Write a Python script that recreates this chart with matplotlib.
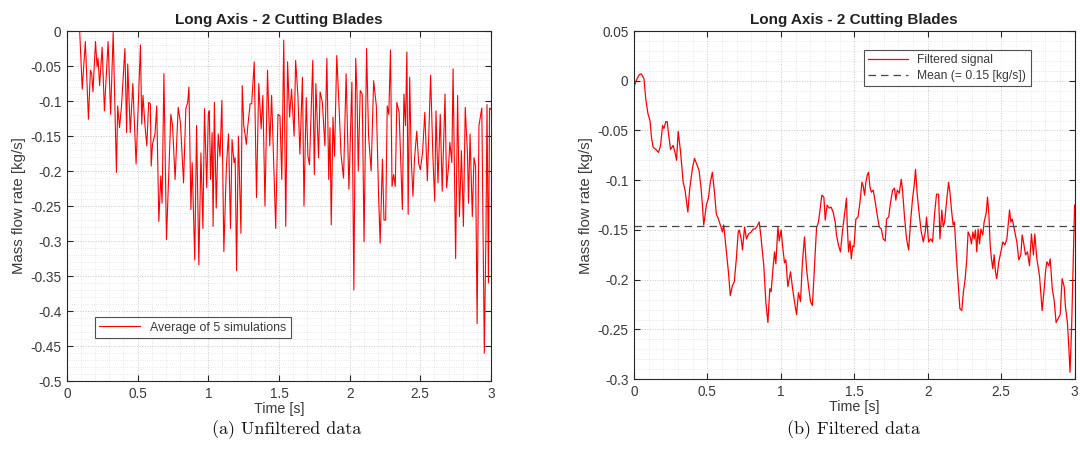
import matplotlib
matplotlib.use("Agg")
import matplotlib.pyplot as plt
from matplotlib.ticker import MultipleLocator, FuncFormatter

plt.rcParams['font.family'] = ['Liberation Sans', 'DejaVu Sans']
plt.rcParams['axes.unicode_minus'] = False

# ---------------- data: unfiltered (average of 5 simulations) ----------------
t_raw = [0.0, 0.09, 0.108, 0.130, 0.152, 0.166, 0.175, 0.184, 0.202, 0.213, 0.220, 0.231, 0.249,
         0.265, 0.291, 0.309, 0.327, 0.350, 0.359, 0.372, 0.386, 0.410, 0.422, 0.430, 0.448,
         0.466, 0.489, 0.520, 0.529, 0.538, 0.552, 0.565, 0.578, 0.590, 0.596, 0.605, 0.623,
         0.635, 0.650, 0.664, 0.673, 0.686, 0.704,
         0.735, 0.747, 0.765, 0.787, 0.803, 0.825, 0.841, 0.854, 0.863, 0.877, 0.886, 0.904,
         0.917, 0.933, 0.948, 0.962, 0.973, 0.989, 1.000, 1.007, 1.016, 1.027, 1.034, 1.043,
         1.056, 1.070, 1.083, 1.096, 1.110, 1.128, 1.143, 1.157, 1.168, 1.182, 1.190, 1.200,
         1.213, 1.231, 1.240, 1.251, 1.262, 1.269, 1.280, 1.296, 1.307, 1.325, 1.341, 1.357,
         1.374, 1.386, 1.401, 1.419, 1.435, 1.448,
         1.477, 1.493, 1.507, 1.520, 1.534, 1.548, 1.561, 1.575, 1.589, 1.607, 1.618, 1.634,
         1.648, 1.666, 1.677, 1.693, 1.705, 1.716, 1.739, 1.750, 1.761, 1.780, 1.791, 1.807,
         1.825, 1.839, 1.852, 1.861, 1.870, 1.882, 1.893, 1.909, 1.925, 1.939, 1.957, 1.975,
         1.995, 2.016, 2.030, 2.043, 2.052, 2.061, 2.075, 2.089, 2.102, 2.120, 2.134, 2.152,
         2.170, 2.189, 2.205, 2.216,
         2.232, 2.243, 2.255, 2.266, 2.277, 2.289, 2.300, 2.311, 2.323, 2.334, 2.350, 2.373,
         2.384, 2.395, 2.405, 2.414, 2.425, 2.436, 2.448, 2.459, 2.475, 2.489, 2.500, 2.516,
         2.532, 2.550, 2.573, 2.589, 2.602, 2.611, 2.625, 2.641, 2.655, 2.675, 2.686, 2.700,
         2.709, 2.723, 2.732, 2.750, 2.764, 2.777, 2.791, 2.805, 2.818, 2.834, 2.841, 2.852,
         2.868, 2.880, 2.891, 2.902,
         2.915, 2.935, 2.953, 2.965, 2.972, 2.982, 2.990, 3.000]
v_raw = [0.0, 0.0, -0.083, -0.015, -0.126, -0.056, -0.061, -0.087, -0.015, -0.051, -0.039, -0.078, -0.023,
         -0.114, -0.015, -0.119, -0.002, -0.202, -0.107, -0.138, -0.107, -0.025, -0.145, -0.047, -0.145,
         -0.075, -0.190, -0.020, -0.133, -0.092, -0.135, -0.164, -0.102, -0.104, -0.193, -0.162, -0.147,
         -0.107, -0.272, -0.207, -0.246, -0.061, -0.298,
         -0.119, -0.135, -0.212, -0.109, -0.131, -0.217, -0.111, -0.102, -0.080, -0.255, -0.188, -0.327,
         -0.135, -0.334, -0.174, -0.282, -0.111, -0.224, -0.119, -0.114, -0.212, -0.145, -0.279, -0.102,
         -0.253, -0.147, -0.179, -0.099, -0.315, -0.193, -0.147, -0.282, -0.155, -0.188, -0.181, -0.342,
         -0.150, -0.289, -0.078, -0.135, -0.150, -0.162, -0.135, -0.104, -0.104, -0.044, -0.238, -0.075,
         -0.140, -0.092, -0.250, -0.056, -0.164, -0.092,
         -0.282, -0.119, -0.121, -0.212, -0.013, -0.279, -0.044, -0.123, -0.083, -0.150, -0.042, -0.092,
         -0.176, -0.066, -0.250, -0.095, -0.179, -0.191, -0.042, -0.205, -0.075, -0.181, -0.087, -0.102,
         -0.164, -0.039, -0.212, -0.138, -0.277, -0.123, -0.179, -0.035, -0.107, -0.176, -0.210, -0.061,
         -0.226, -0.073, -0.370, -0.039, -0.087, -0.200, -0.085, -0.090, -0.301, -0.025, -0.150, -0.200,
         -0.071, -0.107, -0.236, -0.303,
         -0.183, -0.270, -0.270, -0.107, -0.119, -0.027, -0.222, -0.205, -0.222, -0.102, -0.116, -0.255,
         -0.090, -0.135, -0.030, -0.262, -0.066, -0.183, -0.236, -0.183, -0.143, -0.190, -0.198, -0.174,
         -0.116, -0.214, -0.063, -0.179, -0.243, -0.114, -0.217, -0.119, -0.229, -0.090, -0.224, -0.193,
         -0.159, -0.188, -0.054, -0.325, -0.092, -0.265, -0.171, -0.279, -0.109, -0.176, -0.246, -0.147,
         -0.265, -0.181, -0.193, -0.418,
         -0.135, -0.110, -0.460, -0.280, -0.105, -0.360, -0.110, -0.112]

# ---------------- data: filtered signal ----------------
t_filt = [0.000, 0.018, 0.036, 0.050, 0.068, 0.081, 0.095, 0.109, 0.120, 0.131, 0.149, 0.167, 0.181,
          0.195, 0.204, 0.217, 0.226, 0.235, 0.249, 0.267, 0.281, 0.290, 0.301, 0.317, 0.335, 0.348,
          0.367, 0.380, 0.398, 0.412, 0.425, 0.443, 0.457, 0.466, 0.475, 0.493, 0.507, 0.520, 0.534,
          0.548, 0.561, 0.575, 0.588, 0.602, 0.611, 0.629, 0.643, 0.656, 0.670, 0.683, 0.697, 0.710,
          0.717, 0.730, 0.739, 0.753, 0.766, 0.780, 0.798, 0.812, 0.825, 0.839, 0.853, 0.866, 0.884,
          0.898, 0.912, 0.925, 0.934, 0.948, 0.957, 0.966, 0.980, 0.989, 1.002, 1.011, 1.025, 1.034,
          1.048, 1.066, 1.079, 1.093, 1.107, 1.120, 1.134, 1.147, 1.161, 1.175, 1.188, 1.202, 1.215,
          1.229, 1.243, 1.256, 1.265, 1.279, 1.293, 1.302, 1.315, 1.329, 1.342, 1.356, 1.370, 1.379,
          1.392, 1.406, 1.419, 1.433, 1.447,
          1.452, 1.461, 1.471, 1.480, 1.489, 1.498, 1.511, 1.525, 1.539, 1.552, 1.561, 1.570, 1.579,
          1.588, 1.597, 1.607, 1.616, 1.629, 1.643, 1.656, 1.670, 1.684, 1.697, 1.711, 1.720, 1.734,
          1.747, 1.761, 1.774, 1.783, 1.792, 1.806, 1.820, 1.829, 1.842, 1.856, 1.870, 1.883, 1.897,
          1.908, 1.917, 1.929, 1.942, 1.956, 1.970, 1.983, 1.992, 2.006, 2.020, 2.033, 2.047, 2.060,
          2.074, 2.083, 2.096, 2.105, 2.115, 2.128, 2.142, 2.151, 2.164, 2.173, 2.182, 2.196, 2.210,
          2.219,
          2.232, 2.243, 2.255, 2.266, 2.275, 2.289, 2.298, 2.307, 2.316, 2.325, 2.334, 2.343, 2.353,
          2.362, 2.375, 2.384, 2.398, 2.407, 2.416, 2.425, 2.434, 2.443, 2.452, 2.461, 2.470, 2.484,
          2.498, 2.511, 2.525, 2.539, 2.548, 2.557, 2.566, 2.575, 2.584, 2.597, 2.607, 2.620, 2.634,
          2.643, 2.652, 2.666, 2.679, 2.693, 2.706, 2.720, 2.729, 2.743, 2.761, 2.779, 2.793, 2.802,
          2.811, 2.825, 2.834, 2.848, 2.861, 2.874, 2.888, 2.902, 2.915, 2.929, 2.937, 2.951, 2.960,
          2.969, 2.980, 3.000]
v_filt = [-0.006, 0.001, 0.006, 0.007, 0.002, -0.019, -0.033, -0.040, -0.058, -0.067, -0.069, -0.072, -0.065,
          -0.045, -0.048, -0.041, -0.041, -0.053, -0.069, -0.065, -0.073, -0.080, -0.051, -0.071, -0.102, -0.110,
          -0.132, -0.108, -0.088, -0.078, -0.083, -0.090, -0.108, -0.125, -0.145, -0.125, -0.118, -0.102, -0.092,
          -0.112, -0.134, -0.139, -0.145, -0.152, -0.145, -0.172, -0.192, -0.216, -0.206, -0.202, -0.179, -0.152,
          -0.150, -0.159, -0.170, -0.147, -0.159, -0.154, -0.152, -0.149, -0.149, -0.146, -0.142, -0.159, -0.186,
          -0.223, -0.243, -0.209, -0.212, -0.186, -0.172, -0.184, -0.147, -0.161, -0.150, -0.165, -0.183, -0.180,
          -0.207, -0.192, -0.208, -0.222, -0.235, -0.213, -0.222, -0.182, -0.157, -0.189, -0.206, -0.222, -0.226,
          -0.186, -0.148, -0.142, -0.132, -0.115, -0.117, -0.140, -0.125, -0.128, -0.127, -0.132, -0.142, -0.155,
          -0.165, -0.172, -0.152, -0.135, -0.118,
          -0.145, -0.172, -0.161, -0.179, -0.166, -0.167, -0.139, -0.137, -0.122, -0.102, -0.106, -0.115, -0.102,
          -0.095, -0.092, -0.107, -0.112, -0.110, -0.122, -0.135, -0.147, -0.149, -0.159, -0.161, -0.139, -0.137,
          -0.122, -0.110, -0.108, -0.120, -0.110, -0.113, -0.099, -0.111, -0.137, -0.159, -0.170, -0.142, -0.118,
          -0.105, -0.089, -0.115, -0.134, -0.152, -0.162, -0.152, -0.137, -0.162, -0.159, -0.162, -0.133, -0.114,
          -0.114, -0.159, -0.130, -0.147, -0.142, -0.122, -0.102, -0.112, -0.133, -0.145, -0.142, -0.179, -0.209,
          -0.229,
          -0.231, -0.212, -0.199, -0.179, -0.152, -0.157, -0.164, -0.152, -0.159, -0.150, -0.172, -0.149, -0.164,
          -0.149, -0.155, -0.142, -0.133, -0.117, -0.133, -0.165, -0.179, -0.189, -0.175, -0.192, -0.199, -0.182,
          -0.172, -0.162, -0.165, -0.159, -0.145, -0.130, -0.142, -0.139, -0.145, -0.155, -0.162, -0.180, -0.175,
          -0.155, -0.162, -0.175, -0.172, -0.186, -0.154, -0.175, -0.154, -0.179, -0.196, -0.231, -0.209, -0.192,
          -0.182, -0.186, -0.179, -0.209, -0.221, -0.243, -0.239, -0.235, -0.199, -0.207, -0.226, -0.243, -0.266,
          -0.293, -0.246, -0.125]

mean_value = -0.146
title_text = "Long Axis - 2 Cutting Blades"
xlabel_text = "Time [s]"
ylabel_text = "Mass flow rate [kg/s]"
captions = ["(a) Unfiltered data", "(b) Filtered data"]
legend_raw = "Average of 5 simulations"
legend_filt = ["Filtered signal", "Mean (= 0.15 [kg/s])"]

RED = '#ff0000'
AXC = '#262626'
TXT = '#3a3a3a'

fig = plt.figure(figsize=(10.8, 4.63), dpi=100)
ax1 = fig.add_axes([0.062, 0.177, 0.3926, 0.756])
ax2 = fig.add_axes([0.587, 0.181, 0.408, 0.752])


def fmt(v, pos):
    s = '%g' % round(v, 4)
    return '0' if s in ('-0', '0') else s


def style(ax, ymin, ymax):
    ax.set_xlim(0, 3)
    ax.set_ylim(ymin, ymax)
    ax.xaxis.set_major_locator(MultipleLocator(0.5))
    ax.xaxis.set_minor_locator(MultipleLocator(0.1))
    ax.yaxis.set_major_locator(MultipleLocator(0.05))
    ax.yaxis.set_minor_locator(MultipleLocator(0.01))
    ax.xaxis.set_major_formatter(FuncFormatter(fmt))
    ax.yaxis.set_major_formatter(FuncFormatter(fmt))
    ax.grid(which='major', linestyle=':', color='#c8c8c8', linewidth=0.7)
    ax.grid(which='minor', linestyle=':', color='#e2e2e2', linewidth=0.6)
    ax.set_axisbelow(True)
    ax.tick_params(which='major', direction='in', length=4, width=0.8, top=True, right=True,
                   labelsize=9.8, colors=AXC, labelcolor=TXT, pad=4)
    ax.tick_params(which='minor', length=0, top=True, right=True)
    for s in ax.spines.values():
        s.set_color(AXC)
        s.set_linewidth(0.8)
    ax.set_title(title_text, fontsize=11, fontweight='bold', color='#222222', pad=5)
    ax.set_xlabel(xlabel_text, fontsize=10.3, color=TXT, labelpad=1)
    ax.set_ylabel(ylabel_text, fontsize=10.8, color=TXT, labelpad=3)


# left: unfiltered
ax1.plot(t_raw, v_raw, color=RED, linewidth=0.8, label=legend_raw)
style(ax1, -0.5, 0.0)
leg1 = ax1.legend(loc='lower left', bbox_to_anchor=(0.066, 0.123), fontsize=8.9, frameon=True,
                  fancybox=False, edgecolor=AXC, handlelength=3.3, borderpad=0.35,
                  handletextpad=0.8, borderaxespad=0)
leg1.get_frame().set_linewidth(0.8)
for t in leg1.get_texts():
    t.set_color(TXT)

# right: filtered
ax2.plot(t_filt, v_filt, color=RED, linewidth=0.9, label=legend_filt[0])
ax2.axhline(mean_value, color='#444444', linestyle=(0, (6, 4)), linewidth=0.9, label=legend_filt[1])
style(ax2, -0.3, 0.05)
leg2 = ax2.legend(loc='upper right', bbox_to_anchor=(0.9, 0.945), fontsize=8.7, frameon=True,
                  fancybox=False, edgecolor=AXC, handlelength=3.3, borderpad=0.35,
                  handletextpad=0.8, borderaxespad=0, labelspacing=0.3)
leg2.get_frame().set_linewidth(0.8)
for t in leg2.get_texts():
    t.set_color(TXT)

# captions
fig.text(0.265, 0.072, captions[0], ha='center', va='center', fontsize=13,
         family=['cmr10', 'DejaVu Serif'], color='#111111')
fig.text(0.79, 0.072, captions[1], ha='center', va='center', fontsize=13,
         family=['cmr10', 'DejaVu Serif'], color='#111111')

fig.savefig('out.png', dpi=100, facecolor='white')
